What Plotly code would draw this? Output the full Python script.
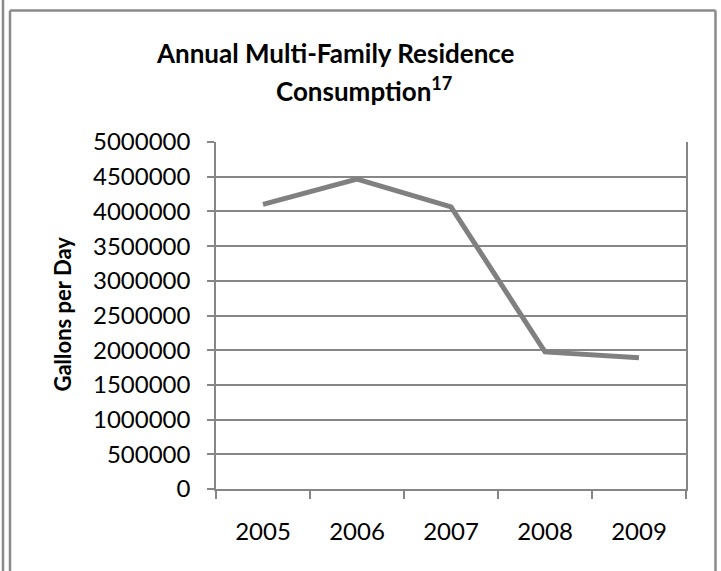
import plotly.graph_objects as go

years = ["2005", "2006", "2007", "2008", "2009"]
gallons = [4100000, 4465000, 4065000, 1975000, 1890000]
y_ticks = [0, 500000, 1000000, 1500000, 2000000, 2500000, 3000000, 3500000, 4000000, 4500000, 5000000]

GRAY = "#868686"
FONT = "Lato"

# plot-area pixel geometry
L, R, T, B = 216, 686, 142, 489
W, H = 721, 571
def px(x):
    return (x - L) / (R - L)
def py(y):
    return (B - y) / (B - T)

fig = go.Figure()
fig.add_trace(go.Scatter(x=years, y=gallons, mode="lines",
                         line=dict(color="#808080", width=5),
                         showlegend=False, hoverinfo="skip"))

fig.update_layout(
    width=W, height=H,
    margin=dict(l=L, r=W - R, t=T, b=H - B),
    paper_bgcolor="white", plot_bgcolor="white",
    font=dict(family=FONT, size=24, color="black"),
    showlegend=False,
)
fig.update_xaxes(type="category", range=[-0.5, 4.5], tickson="boundaries", ticks="outside", ticklen=8,
                 tickcolor=GRAY, tickwidth=1.5, showline=True, linecolor=GRAY, linewidth=1.5,
                 showgrid=False, ticklabelstandoff=20, tickfont=dict(size=24))
fig.update_yaxes(range=[0, 5000000], tickvals=y_ticks, ticktext=[str(v) for v in y_ticks],
                 ticks="outside", ticklen=7, tickcolor=GRAY, tickwidth=1.5,
                 showline=True, linecolor=GRAY, linewidth=1.5, mirror=True,
                 showgrid=True, gridcolor=GRAY, gridwidth=1.5, zeroline=False,
                 ticklabelstandoff=12, tickfont=dict(size=24))

ann = [
    dict(text="<b>Annual Multi-Family Residence</b>", x=px(335), y=py(53)),
    dict(text="<b>Consumption<sup>17</sup></b>", x=px(363.5), y=py(89)),
]
for a in ann:
    fig.add_annotation(xref="paper", yref="paper", showarrow=False,
                       xanchor="center", yanchor="middle", font=dict(size=26), **a)
fig.add_annotation(text="<b>Gallons per Day</b>", xref="paper", yref="paper",
                   x=px(62), y=py(314.5), textangle=-90, showarrow=False,
                   xanchor="center", yanchor="middle", font=dict(size=22))

border = dict(color="#8a8a8a", width=2.5)
fig.add_shape(type="line", xref="paper", yref="paper", x0=px(3), x1=px(3), y0=py(-5), y1=py(580), line=border)
fig.add_shape(type="line", xref="paper", yref="paper", x0=px(10), x1=px(10), y0=py(10.5), y1=py(580), line=border)
fig.add_shape(type="line", xref="paper", yref="paper", x0=px(10), x1=px(715.5), y0=py(10.5), y1=py(10.5), line=border)
fig.add_shape(type="line", xref="paper", yref="paper", x0=px(715.5), x1=px(715.5), y0=py(10.5), y1=py(580), line=border)

fig.write_html("out.html")
